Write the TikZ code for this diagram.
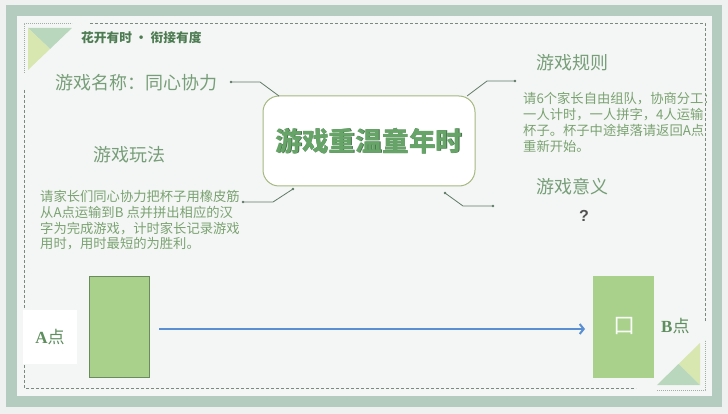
\documentclass[tikz,border=0pt]{standalone}
\usepackage{fontspec}
\setmainfont{Noto Sans CJK SC}
\newfontfamily\cjk{Noto Sans CJK SC}
\newfontfamily\latserif{Liberation Serif}
\newfontfamily\latsans{Liberation Sans}
\usetikzlibrary{arrows.meta}
\definecolor{outerbg}{HTML}{EEF1EF}
\definecolor{framecol}{HTML}{B4CBBF}
\definecolor{panelcol}{HTML}{F4F6F5}
\definecolor{dashcol}{HTML}{7A8A80}
\definecolor{conncol}{HTML}{5F7A66}
\definecolor{headcol}{HTML}{779E78}
\definecolor{bodycol}{HTML}{7AA270}
\definecolor{titlecol}{HTML}{4D7C52}
\definecolor{bigcol}{HTML}{66A468}
\definecolor{bigshadow}{HTML}{46724B}
\definecolor{boxline}{HTML}{A4B87F}
\definecolor{cupfill}{HTML}{A9D18C}
\definecolor{cupline}{HTML}{6B8A5D}
\definecolor{arrowcol}{HTML}{5B8FD3}
\definecolor{mint}{HTML}{B8D7BC}
\definecolor{ygreen}{HTML}{D8E6B0}
\definecolor{labcol}{HTML}{5E8E5E}
\tikzset{
  conn/.style={draw=conncol, line width=0.8pt},
  dotend/.style={fill=conncol, circle, inner sep=0pt, minimum size=2.6pt},
  head/.style={font=\fontsize{18}{20}\selectfont, text=headcol, inner sep=0pt},
  body/.style={font=\fontsize{13.3}{15.8}\selectfont, text=bodycol, align=left, inner sep=0pt, anchor=north west},
  border/.style={draw=dashcol, line width=0.6pt, dash pattern=on 3pt off 2pt},
  dotborder/.style={draw=dashcol!70, line width=0.6pt, dash pattern=on 0.8pt off 1.2pt},
  cup/.style={fill=cupfill, inner sep=0pt},
}
\begin{document}
\begin{tikzpicture}[x=1pt,y=-1pt]
\useasboundingbox (0,0) rectangle (728,414);
% background and frame
\fill[outerbg] (0,0) rectangle (728,414);
\fill[framecol] (6,5) rectangle (722,407);
\fill[panelcol] (17,16) rectangle (712,396);
% corner triangles
\fill[mint] (28,28) -- (72,28) -- (50,49) -- cycle;
\fill[ygreen] (28,28) -- (50,49) -- (28,70) -- cycle;
\fill[ygreen] (700,343) -- (678.5,364) -- (700,385) -- cycle;
\fill[mint] (657,385) -- (678.5,364) -- (700,385) -- cycle;
% dashed border
\draw[border] (90,23) -- (705,23) -- (705,322);
\draw[border] (24,90) -- (24,388) -- (636,388);
\draw[dotborder] (24,73) -- (24,23) -- (72,23);
\draw[dotborder] (657,390) -- (705,390) -- (705,340);
% header
\node[anchor=west, inner sep=0pt, text=titlecol, font=\fontsize{12.7}{14}\selectfont\bfseries] (hdr) at (81,38) {花开有时\hspace{3pt}·\hspace{3pt}衔接有度};
% central box
\node[draw=boxline, line width=1pt, fill=white, rounded corners=16pt, minimum width=212pt, minimum height=90pt, inner sep=0pt] (box) at (369,141) {};
\node[text=bigshadow, font=\fontsize{26.7}{28}\selectfont\bfseries, inner sep=0pt] (bigsh) at (369.6,141.6) {游戏重温童年时};
\node[text=bigcol, font=\fontsize{26.7}{28}\selectfont\bfseries, inner sep=0pt] (big) at (369,141) {游戏重温童年时};
% headings
\node[head, anchor=west] (name) at (55,83) {游戏名称：同心协力};
\node[head] (rules) at (572,63) {游戏规则};
\node[head] (meaning) at (572,187) {游戏意义};
\node[head] (play) at (129.5,155) {游戏玩法};
% body texts
\begin{scope}
\clip (500,50) rectangle (706,170);
\node[body] (rulestext) at (523,92.5) {请6个家长自由组队，协商分工：\\一人计时，一人拼字，4人运输\\杯子。杯子中途掉落请返回A点\\重新开始。};
\end{scope}
\node[body] (playtext) at (40,190) {请家长们同心协力把杯子用橡皮筋\\从A点运输到B 点并拼出相应的汉\\字为完成游戏，计时家长记录游戏\\用时，用时最短的为胜利。};
\node[inner sep=0pt, text=black!68, font=\latsans\fontsize{16}{18}\selectfont\bfseries] (q) at (584,216) {?};
% connectors
\coordinate (d1) at (231,82);
\coordinate (k1) at (260,82);
\coordinate (b1) at (279,96);
\coordinate (b2) at (467,96);
\coordinate (k2) at (487,81);
\coordinate (d2) at (515,81);
\coordinate (d3) at (243,202);
\coordinate (k3) at (273,202);
\coordinate (b3) at (293,189);
\coordinate (b4) at (445,193);
\coordinate (k4) at (463,206);
\coordinate (d4) at (493,206);
\draw[conn] (d1) -- (k1) -- (b1);
\draw[conn] (b2) -- (k2) -- (d2);
\draw[conn] (d3) -- (k3) -- (b3);
\draw[conn] (b4) -- (k4) -- (d4);
\node[dotend] at (d1) {};
\node[dotend] at (d2) {};
\node[dotend] at (d3) {};
\node[dotend] at (b3) {};
\node[dotend] at (b4) {};
\node[dotend] at (d4) {};
% bottom scene
\fill[white] (23,310) rectangle (77,364);
\node[inner sep=0pt, text=labcol, font=\fontsize{17}{19}\selectfont] (alab) at (50,337) {{\latserif\bfseries A}点};
\node[cup, draw=cupline, line width=0.8pt, minimum width=60pt, minimum height=101pt] (cupa) at (119,326.5) {};
\node[cup, minimum width=61pt, minimum height=102pt] (cupb) at (623.5,327) {};
\node[inner sep=0pt, text=white!92!cupfill, font=\fontsize{22}{24}\selectfont] (kou) at (624,326) {口};
\node[inner sep=0pt, text=labcol, font=\fontsize{17}{19}\selectfont, anchor=west] (blab) at (661,326) {{\latserif\bfseries B}点};
\draw[draw=arrowcol, line width=2pt, -{Straight Barb[length=4pt,width=10pt]}] (cupa.east |- 0,329) ++(10,0) coordinate (arrs) -- (585,329) coordinate (arre);
\end{tikzpicture}
\end{document}
